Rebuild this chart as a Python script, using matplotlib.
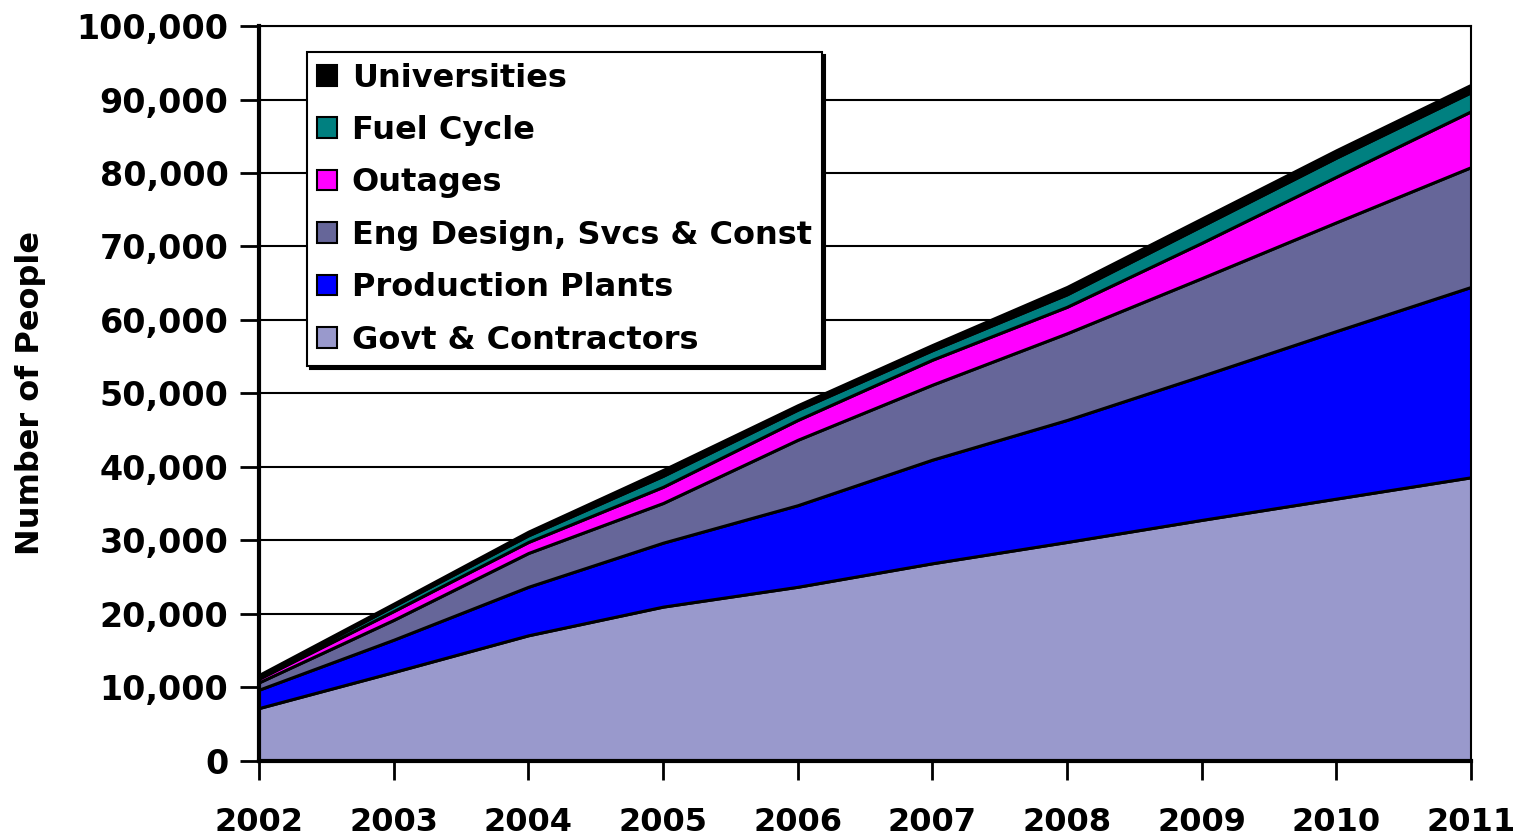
import numpy as np
import matplotlib.pyplot as plt

plt.rcParams['font.family'] = ['DejaVu Sans']
plt.rcParams['font.weight'] = 'bold'

years = [2002, 2003, 2004, 2005, 2006, 2007, 2008, 2009, 2010, 2011]

# layer thickness (people), bottom layer first
govt = [7200, 12100, 17100, 21000, 23700, 26900, 29800, 32800, 35700, 38600]
production = [2500, 4400, 6600, 8700, 11100, 14100, 16600, 19600, 22800, 25900]
eng_design = [1000, 2700, 4600, 5400, 8900, 10200, 11800, 13300, 14800, 16300]
outages = [500, 1200, 1500, 2200, 2700, 3400, 3600, 4800, 6200, 7600]
fuel_cycle = [200, 700, 900, 1500, 1400, 1300, 1700, 2300, 2600, 2600]
universities = [300, 300, 500, 800, 600, 700, 1000, 1000, 1000, 1000]

labels = ['Govt & Contractors', 'Production Plants', 'Eng Design, Svcs & Const',
          'Outages', 'Fuel Cycle', 'Universities']
colors = ['#9999CC', '#0000FF', '#666699', '#FF00FF', '#008080', '#000000']

fig = plt.figure(figsize=(15.17, 8.39), dpi=100)
ax = fig.add_axes([0.1707, 0.093, 0.799, 0.876])

ax.set_axisbelow(True)
ax.yaxis.grid(True, color='black', linewidth=1.5)

ax.stackplot(years, govt, production, eng_design, outages, fuel_cycle,
             universities, labels=labels, colors=colors,
             edgecolor='black', linewidth=2.2, zorder=2)

ax.set_xlim(2002, 2011)
ax.set_ylim(0, 100000)
ax.set_xticks(years)
ax.set_yticks(np.arange(0, 100001, 10000))
ax.set_yticklabels([f'{v:,}' for v in range(0, 100001, 10000)])
ax.tick_params(axis='both', width=2, length=14, direction='out')
ax.tick_params(axis='y', labelsize=24, pad=8)
ax.tick_params(axis='x', labelsize=23, pad=19)
for lab in ax.get_xticklabels() + ax.get_yticklabels():
    lab.set_fontweight('bold')

for side in ['left', 'bottom']:
    ax.spines[side].set_linewidth(3)
for side in ['top', 'right']:
    ax.spines[side].set_linewidth(1.5)

ax.set_ylabel('Number of People', fontsize=23, fontweight='bold')
ax.yaxis.set_label_coords(-0.176, 0.5)

handles, labs = ax.get_legend_handles_labels()
leg = ax.legend(handles[::-1], labs[::-1], loc='upper left',
                bbox_to_anchor=(0.0396, 0.9646), fontsize=23, frameon=True,
                fancybox=False, shadow={'color': 'black', 'alpha': 1},
                edgecolor='black', framealpha=1, handlelength=0.62,
                handleheight=0.62, handletextpad=0.45, labelspacing=0.67,
                borderpad=0.33, borderaxespad=0)
leg.get_frame().set_linewidth(1.5)
for t in leg.get_texts():
    t.set_fontweight('bold')
for h in leg.legend_handles:
    h.set_linewidth(1.5)

fig.savefig('out.png', dpi=100)
